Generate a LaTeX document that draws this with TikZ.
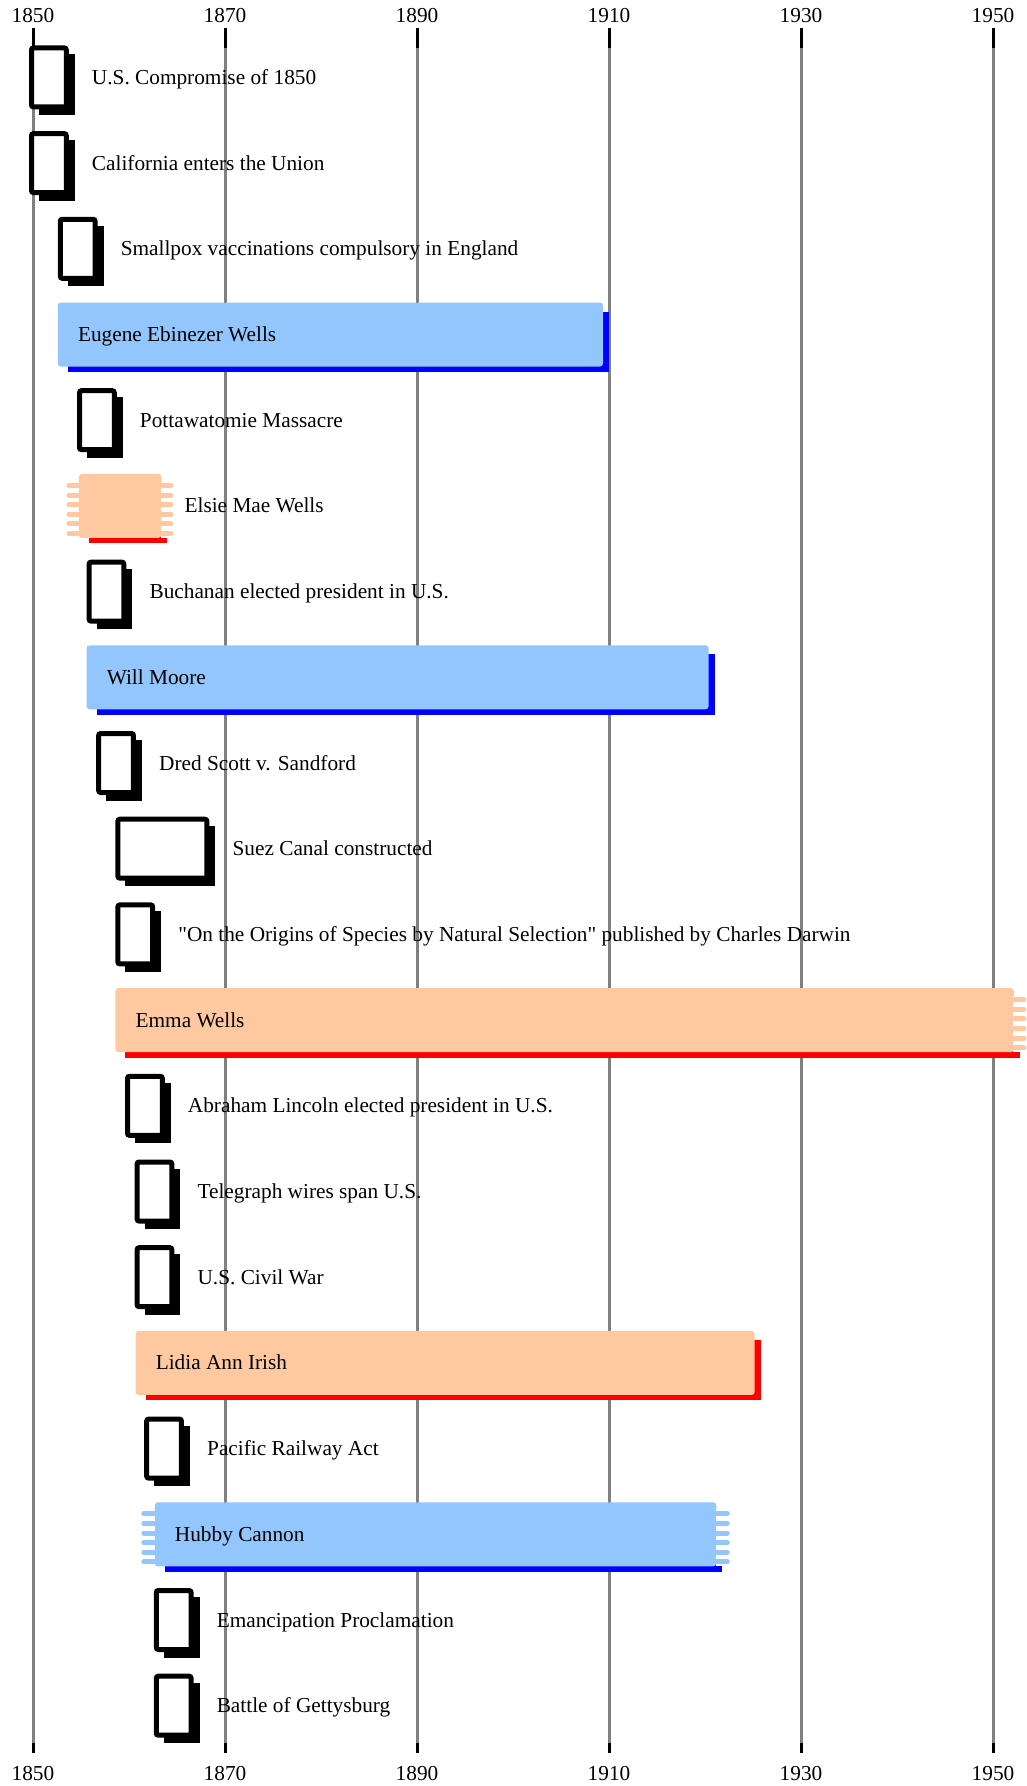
\documentclass[tikz,border=0pt]{standalone}
\usepackage{fontspec}
\setmainfont{Liberation Serif}[Ligatures=TeXOff]
\definecolor{lifeblue}{RGB}{147,198,253}
\definecolor{lifepeach}{RGB}{254,201,160}

\begin{document}
\begin{tikzpicture}[x=1pt,y=-1pt,
  declare function={yx(\t)=33+(\t-1850)*9.6; ry(\r)=77.4+(\r-1)*85.7;},
  every node/.style={font=\fontsize{21.3}{25}\selectfont,inner sep=0pt},
  gridline/.style={gray,line width=3pt},
  yeartick/.style={black,line width=3pt},
  evbox/.style={draw=black,fill=white,line width=5pt,rounded corners=2pt},
  stub/.style={line width=5pt,line cap=round}]
\useasboundingbox (0,0) rectangle (1026,1786);
% Year grid
\foreach \y in {1850,1870,...,1950} {
  \draw[gridline] ({yx(\y)},48) -- ({yx(\y)},1743);
  \draw[yeartick] ({yx(\y)},28) -- ({yx(\y)},48);
  \draw[yeartick] ({yx(\y)},1743) -- ({yx(\y)},1753);
  \node (top\y) at ({yx(\y)},15.5) {\y};
  \node (bot\y) at ({yx(\y)},1773.5) {\y};
}
% Events
\foreach \r/\s/\e/\t in {
  1/1850/1854.35/{U.S. Compromise of 1850},
  2/1850/1854.35/{California enters the Union},
  3/1853/1857.35/{Smallpox vaccinations compulsory in England},
  5/1855/1859.35/{Pottawatomie Massacre},
  7/1856/1860.35/{Buchanan elected president in U.S.},
  9/1857/1861.35/{Dred Scott v. Sandford},
  10/1859/1869/{Suez Canal constructed},
  11/1859/1863.35/{"On the Origins of Species by Natural Selection" published by Charles Darwin},
  13/1860/1864.35/{Abraham Lincoln elected president in U.S.},
  14/1861/1865.35/{Telegraph wires span U.S.},
  15/1861/1865.35/{U.S. Civil War},
  17/1862/1866.35/{Pacific Railway Act},
  19/1863/1867.35/{Emancipation Proclamation},
  20/1863/1867.35/{Battle of Gettysburg}} {
  \fill[black] ({yx(\s)+6},{ry(\r)-23}) rectangle ({yx(\e)},{ry(\r)+37.5});
  \draw[evbox] ({yx(\s)-1.5},{ry(\r)-29.5}) rectangle ({yx(\e)-8.5},{ry(\r)+29.5});
  \node[anchor=base west] (ev\r) at ({yx(\e)+17},{ry(\r)+7}) {\t};
}
% Lifelines
\foreach \r/\s/\e/\t/\col/\sh in {
  4/1853/1910/{Eugene Ebinezer Wells}/lifeblue/blue,
  8/1856/1921/{Will Moore}/lifeblue/blue,
  12/1859/1952.8/{Emma Wells}/lifepeach/red,
  16/1861.1/1925.8/{Lidia Ann Irish}/lifepeach/red,
  18/1863.1/1921.8/{Hubby Cannon}/lifeblue/blue} {
  \fill[\sh] ({yx(\s)+6},{ry(\r)-23}) rectangle ({yx(\e)},{ry(\r)+37.5});
  \fill[\col,rounded corners=3pt] ({yx(\s)-4},{ry(\r)-32}) rectangle ({yx(\e)-6},{ry(\r)+32});
  \node[anchor=base west] (life\r) at ({yx(\s)+16},{ry(\r)+7}) {\t};
}
% Elsie Mae Wells (short, label outside)
\fill[red] ({yx(1855.2)+6},{ry(6)-23}) rectangle ({yx(1864)},{ry(6)+37.5});
\fill[lifepeach,rounded corners=3pt] ({yx(1855.2)-4},{ry(6)-32}) rectangle ({yx(1864)-6},{ry(6)+32});
\node[anchor=base west] (life6) at ({yx(1864)+17},{ry(6)+7}) {Elsie Mae Wells};
% Uncertain ends
\foreach \r/\e in {6/1864,12/1952.8,18/1921.8}
  \fill[white] ({yx(\e)-6.5},{ry(\r)-24}) rectangle ({yx(\e)+1},{ry(\r)+32});
\foreach \d in {-20.5,-10.9,-1.3,8.3,17.9,27.5} {
  \draw[stub,lifepeach] ({yx(1855.2)-14},{ry(6)+\d}) -- ({yx(1855.2)},{ry(6)+\d});
  \draw[stub,lifepeach] ({yx(1864)-9},{ry(6)+\d}) -- ({yx(1864)+3.5},{ry(6)+\d});
  \draw[stub,lifepeach] ({yx(1952.8)-9},{ry(12)+\d}) -- ({yx(1952.8)+4},{ry(12)+\d});
  \draw[stub,lifeblue] ({yx(1863.1)-15},{ry(18)+\d}) -- ({yx(1863.1)},{ry(18)+\d});
  \draw[stub,lifeblue] ({yx(1921.8)-9},{ry(18)+\d}) -- ({yx(1921.8)+5},{ry(18)+\d});
}
\end{tikzpicture}
\end{document}
